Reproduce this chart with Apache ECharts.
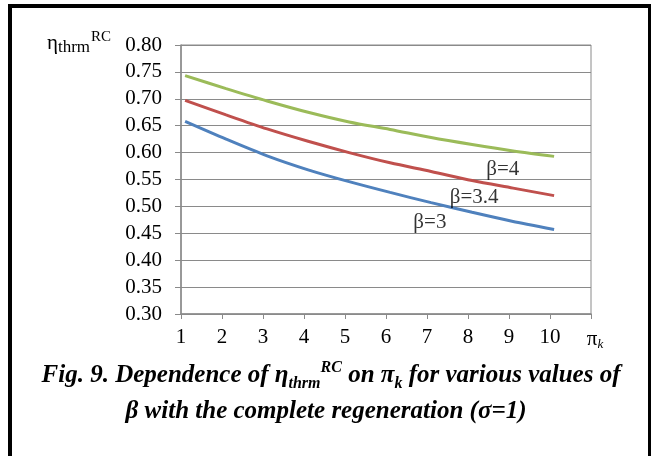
<!DOCTYPE html>
<html>
<head>
<meta charset="utf-8">
<script src="https://cdn.jsdelivr.net/npm/echarts@6/dist/echarts.min.js"></script>
<style>
  html, body { margin: 0; padding: 0; background: #ffffff; }
  #chart { width: 651px; height: 456px; }
</style>
</head>
<body>
<div id="chart"></div>
<script>
// Pressure ratio π_k at which the efficiency was evaluated
const piK = [1.1, 2.1, 3.1, 4.1, 5.1, 6.1, 7.1, 8.1, 9.1, 10.1];

// Thermal efficiency η_thrm^RC for each temperature ratio β (σ = 1)
const etaBeta3  = [0.658, 0.625, 0.594, 0.568, 0.546, 0.526, 0.507, 0.489, 0.472, 0.457];
const etaBeta34 = [0.697, 0.670, 0.644, 0.621, 0.600, 0.581, 0.565, 0.548, 0.534, 0.520];
const etaBeta4  = [0.743, 0.719, 0.696, 0.675, 0.657, 0.643, 0.628, 0.615, 0.603, 0.593];

const seriesNames = ['β=3', 'β=3.4', 'β=4'];
const seriesColors = ['#4F81BD', '#C0504D', '#9BBB59'];

// Where each curve's label sits, in axis units
const labelX = [7.07, 8.15, 8.85];
const labelY = [0.470, 0.516, 0.568];

const serif = '"Liberation Serif", "Times New Roman", serif';
const gridGray = '#8a8a8a';

const chart = echarts.init(document.getElementById('chart'), null, { renderer: 'canvas' });

function pairs(xs, ys) {
  return xs.map((x, i) => [x, ys[i]]);
}

const curves = [etaBeta3, etaBeta34, etaBeta4].map((ys, i) => ({
  name: seriesNames[i],
  type: 'line',
  data: pairs(piK, ys),
  smooth: 0.3,
  showSymbol: false,
  lineStyle: { color: seriesColors[i], width: 3 },
  itemStyle: { color: seriesColors[i] },
  z: 3
}));

const curveLabels = {
  type: 'scatter',
  data: labelX.map((x, i) => [x, labelY[i], seriesNames[i]]),
  symbolSize: 0,
  silent: true,
  label: {
    show: true,
    position: 'inside',
    formatter: p => p.data[2],
    fontFamily: serif,
    fontSize: 21,
    color: '#000',
    textBorderWidth: 0
  },
  z: 5
};

chart.setOption({
  animation: false,
  backgroundColor: '#ffffff',
  grid: {
    left: 181, top: 45, right: 60, bottom: 142,
    show: true, borderColor: gridGray, borderWidth: 1
  },
  xAxis: {
    type: 'value',
    min: 1, max: 11, interval: 1,
    axisLine: { show: true, lineStyle: { color: gridGray, width: 1.5 } },
    axisTick: { show: true, length: 5, lineStyle: { color: gridGray } },
    splitLine: { show: false },
    axisLabel: {
      margin: 13,
      fontFamily: serif,
      fontSize: 21,
      color: '#000',
      formatter: v => (v === 11 ? '{pi|π}{k|k}' : String(v)),
      rich: {
        pi: { fontFamily: serif, fontSize: 21, color: '#000', lineHeight: 24, verticalAlign: 'middle', padding: [0, 0, 0, 8] },
        k: { fontFamily: serif, fontSize: 13, fontStyle: 'italic', color: '#000', lineHeight: 24, verticalAlign: 'bottom', padding: [10, 0, 0, 0] }
      }
    }
  },
  yAxis: {
    type: 'value',
    min: 0.30, max: 0.80, interval: 0.05,
    axisLine: { show: true, lineStyle: { color: gridGray, width: 1.5 } },
    axisTick: { show: true, length: 6, lineStyle: { color: gridGray } },
    splitLine: { show: true, lineStyle: { color: gridGray, width: 1 } },
    axisLabel: {
      margin: 19,
      fontFamily: serif,
      fontSize: 21,
      color: '#000',
      formatter: v => v.toFixed(2)
    }
  },
  series: [...curves, curveLabels],
  graphic: [
    {
      type: 'rect',
      shape: { x: 10, y: 6, width: 640, height: 500 },
      style: { fill: 'none', stroke: '#000', lineWidth: 4 },
      silent: true,
      z: 10
    },
    {
      type: 'text',
      left: 47, top: 30,
      style: {
        text: '{eta|η}{sub|thrm}{sup|RC}',
        rich: {
          eta: { fontFamily: serif, fontSize: 21, color: '#000', lineHeight: 26, verticalAlign: 'middle' },
          sub: { fontFamily: serif, fontSize: 17, color: '#000', lineHeight: 26, verticalAlign: 'bottom', padding: [8, 0, 0, 0] },
          sup: { fontFamily: serif, fontSize: 15, color: '#000', lineHeight: 26, verticalAlign: 'top', padding: [0, 0, 6, 1] }
        }
      },
      z: 10
    },
    {
      type: 'text',
      x: 331, y: 376,
      style: {
        text: '{t|Fig. 9. Dependence of η}{sub|thrm}{sup|RC}{t| on π}{sub|k}{t| for various values of}',
        align: 'center', verticalAlign: 'middle',
        rich: {
          t: { fontFamily: serif, fontSize: 25, fontWeight: 'bold', fontStyle: 'italic', color: '#000', lineHeight: 32, verticalAlign: 'middle' },
          sub: { fontFamily: serif, fontSize: 16, fontWeight: 'bold', fontStyle: 'italic', color: '#000', lineHeight: 32, verticalAlign: 'bottom', padding: [10, 0, 0, 0] },
          sup: { fontFamily: serif, fontSize: 16, fontWeight: 'bold', fontStyle: 'italic', color: '#000', lineHeight: 32, verticalAlign: 'top', padding: [0, 0, 6, 0] }
        }
      },
      z: 10
    },
    {
      type: 'text',
      x: 326, y: 412,
      style: {
        text: 'β with the complete regeneration (σ=1)',
        align: 'center', verticalAlign: 'middle',
        fontFamily: serif, fontSize: 25, fontWeight: 'bold', fontStyle: 'italic', fill: '#000'
      },
      z: 10
    }
  ]
});
</script>
</body>
</html>
